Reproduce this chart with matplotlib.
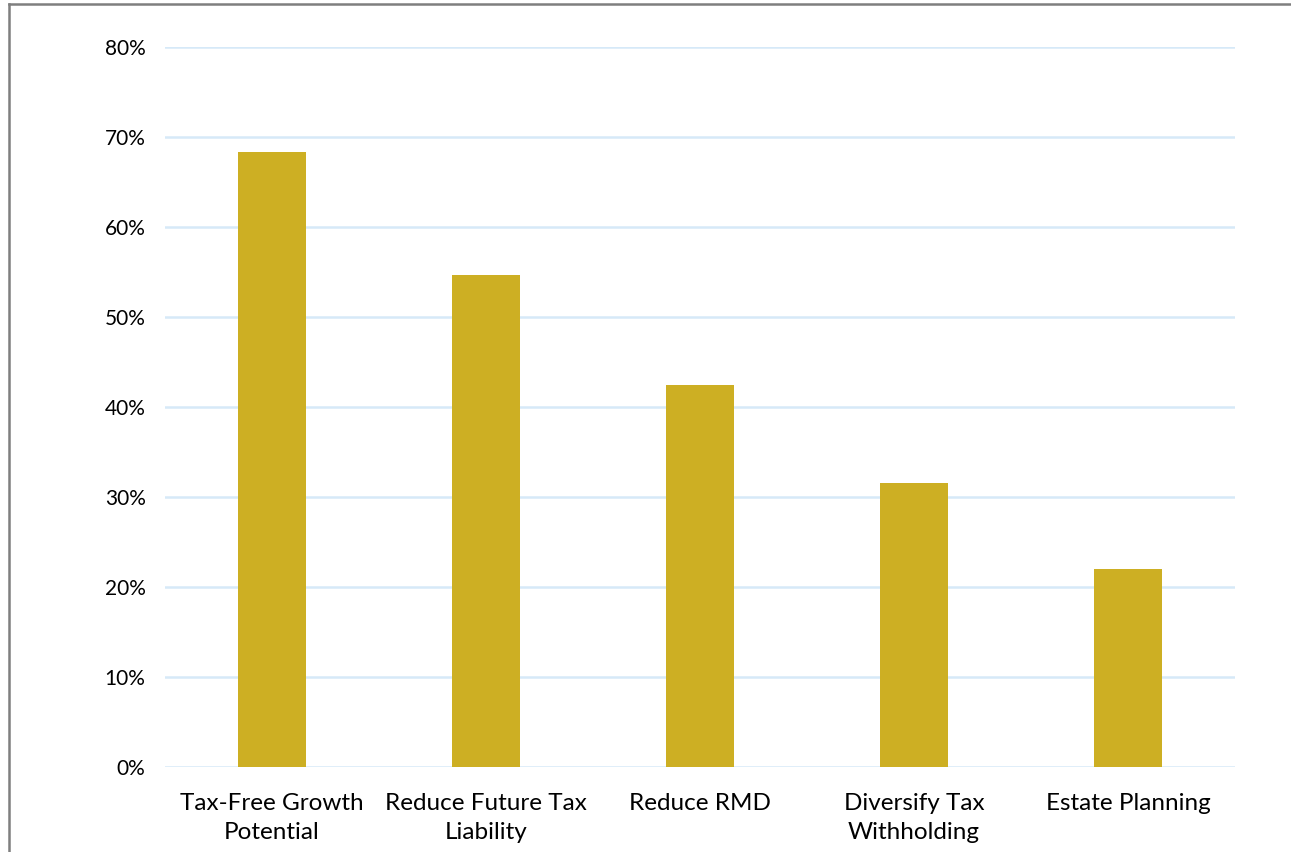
import matplotlib.pyplot as plt
from matplotlib.lines import Line2D
from matplotlib.ticker import PercentFormatter

categories = ["Tax-Free Growth\nPotential", "Reduce Future Tax\nLiability", "Reduce RMD",
              "Diversify Tax\nWithholding", "Estate Planning"]
values = [0.683, 0.547, 0.424, 0.316, 0.220]
yticks = [0, 0.1, 0.2, 0.3, 0.4, 0.5, 0.6, 0.7, 0.8]

plt.rcParams['font.family'] = ['Lato', 'DejaVu Sans']

W, H = 1291, 852
fig = plt.figure(figsize=(W / 100, H / 100), dpi=100)
ax = fig.add_axes([165 / W, 1 - 767 / H, (1235 - 165) / W, (767 - 47) / H])

x = range(len(categories))
ax.bar(x, values, width=0.315, color="#cdaf23", zorder=3)

ax.set_xlim(-0.5, len(categories) - 0.5)
ax.set_ylim(0, 0.8)
ax.set_yticks(yticks)
ax.yaxis.set_major_formatter(PercentFormatter(1.0, decimals=0))
ax.set_xticks(list(x))
ax.set_xticklabels(categories, fontsize=17.5, linespacing=1.45)
ax.tick_params(axis='y', labelsize=15, length=0, pad=14)
ax.tick_params(axis='x', length=0, pad=19)
ax.grid(axis='y', color="#d6e9f8", linewidth=1.8, zorder=0)
for s in ax.spines.values():
    s.set_visible(False)

# outer frame
fig.add_artist(Line2D([8.5 / W, 8.5 / W], [0, 1 - 3.5 / H], color="#7f7f7f", lw=1.8,
                      transform=fig.transFigure))
fig.add_artist(Line2D([8.5 / W, 1290 / W], [1 - 3.5 / H, 1 - 3.5 / H], color="#7f7f7f",
                      lw=1.8, transform=fig.transFigure))

fig.savefig("out.png", dpi=100)
